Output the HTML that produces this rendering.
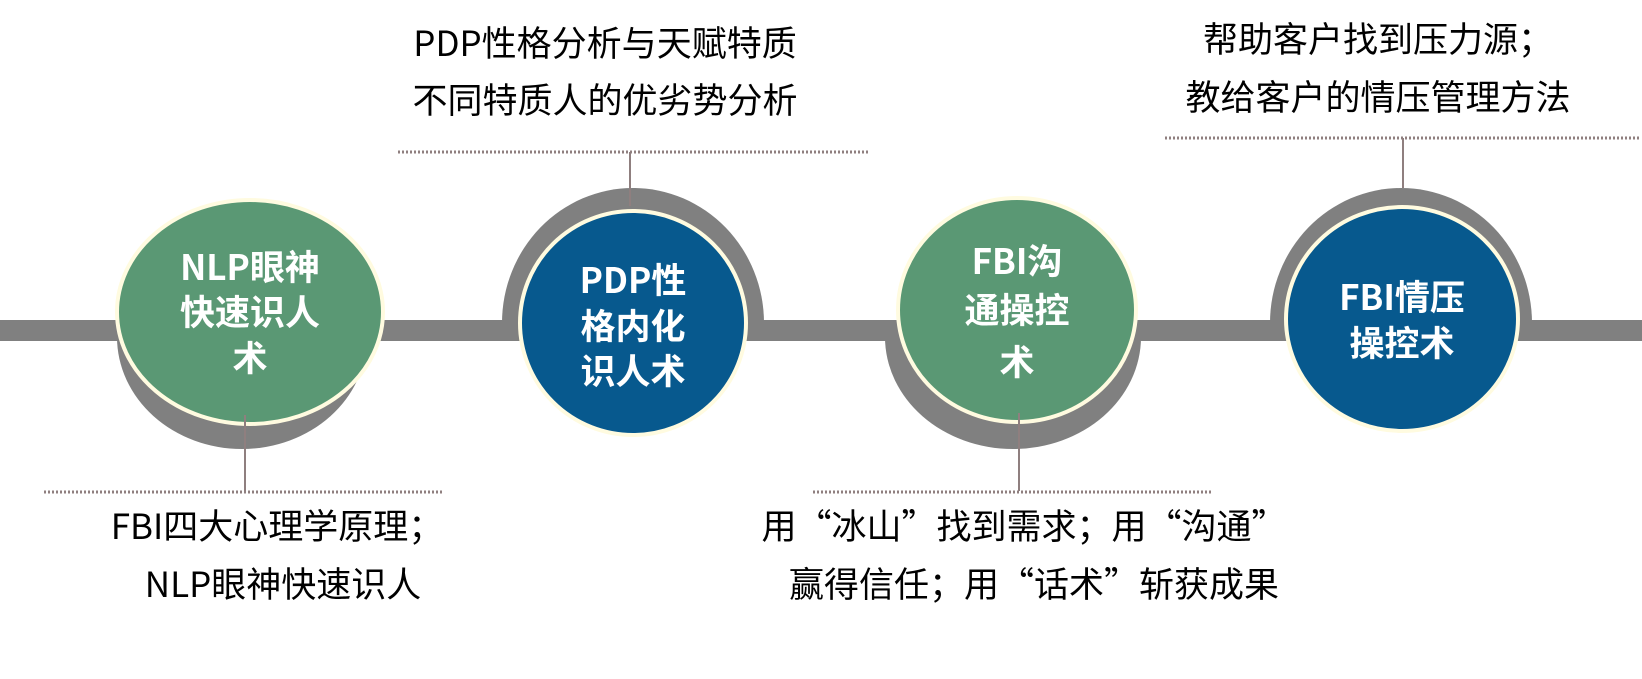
<!DOCTYPE html>
<html><head><meta charset="utf-8"><style>
html,body{margin:0;padding:0;background:#fff;}
svg{display:block;}
text{font-family:"Noto Sans CJK SC","Liberation Sans",sans-serif;}
.w{fill:#fff;font-weight:bold;font-size:35px;text-anchor:middle;}
.d{fill:#000;font-size:35px;text-anchor:middle;}
</style></head><body>
<svg width="1642" height="679" viewBox="0 0 1642 679" xmlns="http://www.w3.org/2000/svg">
<defs>
<clipPath id="below"><rect x="0" y="320" width="1642" height="400"/></clipPath>
<clipPath id="above"><rect x="0" y="0" width="1642" height="341"/></clipPath>
</defs>
<rect x="0" y="320" width="1642" height="21" fill="#808080"/>
<ellipse cx="242" cy="337" rx="125" ry="112" fill="#808080" clip-path="url(#below)"/>
<ellipse cx="633" cy="323" rx="131" ry="135" fill="#808080" clip-path="url(#above)"/>
<ellipse cx="1013" cy="337" rx="128" ry="112" fill="#808080" clip-path="url(#below)"/>
<ellipse cx="1401" cy="323" rx="131" ry="135" fill="#808080" clip-path="url(#above)"/>

<ellipse cx="250" cy="312" rx="133" ry="112" fill="#5a9874" stroke="#fffbe0" stroke-width="4"/>
<ellipse cx="633" cy="323" rx="113" ry="112" fill="#07598e" stroke="#fffbe0" stroke-width="4"/>
<ellipse cx="1017" cy="310" rx="119" ry="112" fill="#5a9874" stroke="#fffbe0" stroke-width="4"/>
<ellipse cx="1402" cy="319" rx="116" ry="112" fill="#07598e" stroke="#fffbe0" stroke-width="4"/>

<g stroke="#8f7f7f" stroke-width="2">
<line x1="245" y1="415" x2="245" y2="491"/>
<line x1="630" y1="152" x2="630" y2="206"/>
<line x1="1019" y1="413" x2="1019" y2="491"/>
<line x1="1403" y1="138" x2="1403" y2="188"/>
</g>
<g stroke="#8f7f7f" stroke-width="3" stroke-dasharray="2,2">
<line x1="44" y1="492" x2="442" y2="492"/>
<line x1="398" y1="152" x2="869" y2="152"/>
<line x1="813" y1="492" x2="1212" y2="492"/>
<line x1="1165" y1="138" x2="1640" y2="138"/>
</g>

<text class="w" x="250" y="280">NLP眼神</text>
<text class="w" x="250" y="325">快速识人</text>
<text class="w" x="250" y="371">术</text>
<text class="w" x="633" y="293">PDP性</text>
<text class="w" x="633" y="339">格内化</text>
<text class="w" x="633" y="384">识人术</text>
<text class="w" x="1017" y="274">FBI沟</text>
<text class="w" x="1017" y="323">通操控</text>
<text class="w" x="1017" y="375">术</text>
<text class="w" x="1402" y="310">FBI情压</text>
<text class="w" x="1402" y="356">操控术</text>

<text class="d" x="605" y="56">PDP性格分析与天赋特质</text>
<text class="d" x="605" y="113">不同特质人的优劣势分析</text>
<text class="d" x="1378" y="52">帮助客户找到压力源；</text>
<text class="d" x="1378" y="110">教给客户的情压管理方法</text>
<text class="d" x="277" y="539">FBI四大心理学原理；</text>
<text class="d" x="283" y="597">NLP眼神快速识人</text>
<text class="d" x="1024" y="539">用“冰山”找到需求；用“沟通”</text>
<text class="d" x="1034" y="597">赢得信任；用“话术”斩获成果</text>
</svg>
</body></html>
